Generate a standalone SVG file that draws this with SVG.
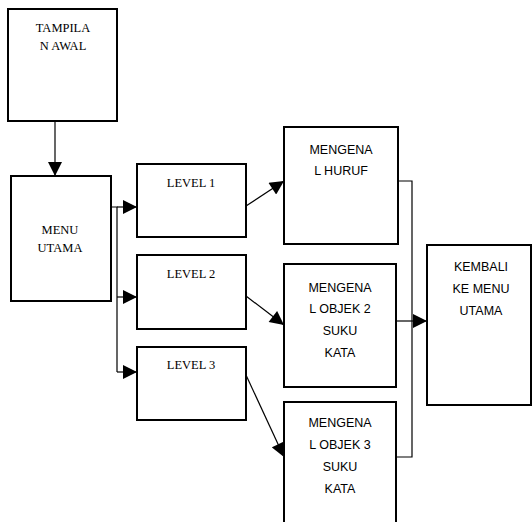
<svg xmlns="http://www.w3.org/2000/svg" width="532" height="522" viewBox="0 0 532 522">
<style>
.box{fill:#fff;stroke:#000;stroke-width:2}
.ln{fill:none;stroke:#000;stroke-width:1.2}
.serif{font-family:"Liberation Serif","Times New Roman",serif;font-size:12.5px;fill:#000;text-anchor:middle}
.sans{font-family:"Liberation Sans",Arial,sans-serif;font-size:12.5px;fill:#000;text-anchor:middle}
</style>
<defs>
<marker id="ah" viewBox="0 0 10 10" refX="10" refY="5" markerWidth="15" markerHeight="14" markerUnits="userSpaceOnUse" orient="auto">
<path d="M0,0 L10,5 L0,10 Z" fill="#000"/>
</marker>
</defs>
<rect width="532" height="522" fill="#fff"/>
<g id="connectors">
<line class="ln" x1="55" y1="121" x2="55" y2="176" marker-end="url(#ah)"/>
<polyline class="ln" points="111,207 117,207 117,372"/>
<line class="ln" x1="117" y1="207" x2="137" y2="207" marker-end="url(#ah)"/>
<line class="ln" x1="117" y1="297" x2="137" y2="297" marker-end="url(#ah)"/>
<line class="ln" x1="117" y1="372" x2="137" y2="372" marker-end="url(#ah)"/>
<line class="ln" x1="246" y1="206" x2="284" y2="181" marker-end="url(#ah)"/>
<line class="ln" x1="246" y1="296" x2="284" y2="325" marker-end="url(#ah)"/>
<line class="ln" x1="246" y1="375" x2="284" y2="457" marker-end="url(#ah)"/>
<polyline class="ln" points="398,181 412,181 412,457 396,457"/>
<line class="ln" x1="396" y1="321" x2="427" y2="321" marker-end="url(#ah)"/>
</g>
<g id="tampilan-awal">
<rect class="box" x="8" y="9" width="109" height="112"/>
<text class="serif" x="63" y="32">TAMPILA</text>
<text class="serif" x="63" y="50">N AWAL</text>
</g>
<g id="menu-utama">
<rect class="box" x="11" y="176" width="100" height="125"/>
<text class="serif" x="60" y="234">MENU</text>
<text class="serif" x="60" y="252">UTAMA</text>
</g>
<g id="level-1">
<rect class="box" x="137" y="164" width="109" height="73"/>
<text class="serif" x="191" y="187">LEVEL 1</text>
</g>
<g id="level-2">
<rect class="box" x="137" y="255" width="109" height="74"/>
<text class="serif" x="191" y="278">LEVEL 2</text>
</g>
<g id="level-3">
<rect class="box" x="137" y="347" width="109" height="73"/>
<text class="serif" x="191" y="369">LEVEL 3</text>
</g>
<g id="mengenal-huruf">
<rect class="box" x="284" y="127" width="114" height="117"/>
<text class="sans" x="341" y="154">MENGENA</text>
<text class="sans" x="341" y="175">L HURUF</text>
</g>
<g id="mengenal-objek-2">
<rect class="box" x="284" y="264" width="112" height="123"/>
<text class="sans" x="340" y="292">MENGENA</text>
<text class="sans" x="340" y="313">L OBJEK 2</text>
<text class="sans" x="340" y="335">SUKU</text>
<text class="sans" x="340" y="357">KATA</text>
</g>
<g id="mengenal-objek-3">
<rect class="box" x="284" y="402" width="112" height="130"/>
<text class="sans" x="340" y="427">MENGENA</text>
<text class="sans" x="340" y="449">L OBJEK 3</text>
<text class="sans" x="340" y="471">SUKU</text>
<text class="sans" x="340" y="493">KATA</text>
</g>
<g id="kembali">
<rect class="box" x="427" y="245" width="104" height="160"/>
<text class="sans" x="481" y="271">KEMBALI</text>
<text class="sans" x="481" y="293">KE MENU</text>
<text class="sans" x="481" y="315">UTAMA</text>
</g>
</svg>
